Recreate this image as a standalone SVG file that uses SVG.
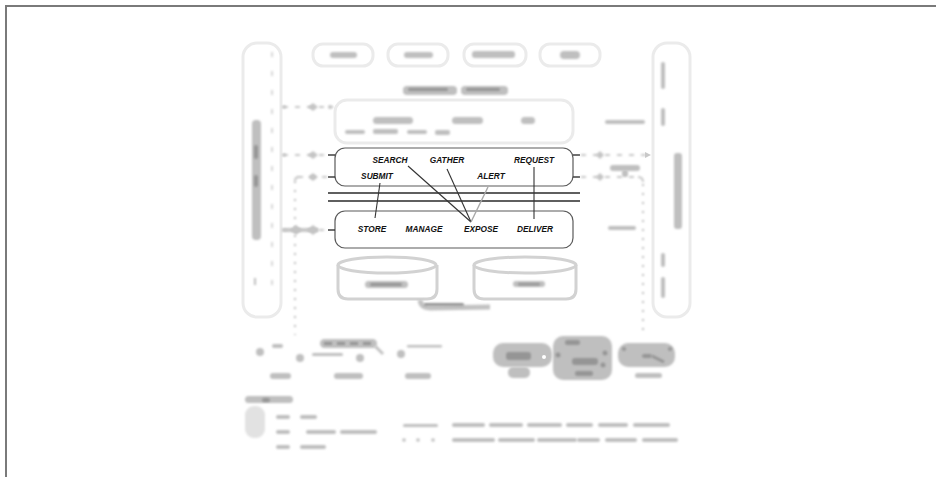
<svg xmlns="http://www.w3.org/2000/svg" width="936" height="477" viewBox="0 0 936 477">
<defs>
<filter id="blur" filterUnits="userSpaceOnUse" x="0" y="0" width="936" height="477"><feGaussianBlur stdDeviation="0.9"/></filter>
<style>
.frame{fill:none;stroke:#7a7a7a;stroke-width:2}
.pale{fill:none;stroke:#ebebeb;stroke-width:3}
.cyl{fill:none;stroke:#d2d2d2;stroke-width:3}
.box{fill:#fff;stroke:#5a5a5a;stroke-width:1.2}
.rule{stroke:#2a2a2a;stroke-width:1.4}
.tick{stroke:#333;stroke-width:1.4}
.lbl{font-family:"Liberation Sans",Arial,sans-serif;font-size:8.3px;font-weight:bold;font-style:italic;fill:#111;text-anchor:middle}
.link{stroke:#333;stroke-width:1.1;fill:none}
.sm{fill:#bfbfbf;filter:url(#blur)}
.smd{fill:#959595;filter:url(#blur)}
.smp{fill:#e2e2e2;filter:url(#blur)}
.dash{fill:none;stroke:#c8c8c8;stroke-width:2;stroke-dasharray:5 7;filter:url(#blur)}
.dots{fill:none;stroke:#c0c0c0;stroke-width:2;stroke-dasharray:2 7;filter:url(#blur)}
</style>
</defs>

<!-- page frame (top and left edges) -->
<path class="frame" d="M6,477 L6,6 L936,6"/>

<!-- left tall panel -->
<g id="left-panel">
<rect class="pale" x="243" y="43" width="38" height="274" rx="14"/>
<line x1="272" y1="52" x2="272" y2="292" stroke="#cfcfcf" stroke-width="1.6" stroke-dasharray="5 14" filter="url(#blur)"/>
<rect class="sm" x="252" y="120" width="9" height="120" rx="4"/>
<rect class="smd" x="254" y="145" width="4" height="14" rx="2"/>
<rect class="smd" x="254" y="175" width="4" height="12" rx="2"/>
<rect class="sm" x="254" y="278" width="2" height="7"/>
</g>

<!-- right tall panel -->
<g id="right-panel">
<rect class="pale" x="653" y="43" width="37" height="274" rx="14"/>
<rect class="sm" x="661" y="62" width="4" height="27" rx="2"/>
<rect class="sm" x="661" y="108" width="4" height="18" rx="2"/>
<rect class="sm" x="674" y="153" width="8" height="76" rx="3"/>
<rect class="sm" x="661" y="253" width="4" height="14" rx="2"/>
<rect class="sm" x="661" y="277" width="4" height="21" rx="2"/>
</g>

<!-- top four boxes -->
<g id="top-1"><rect class="pale" x="313" y="44" width="60" height="22" rx="10"/><rect class="sm" x="330" y="52" width="27" height="6" rx="3"/></g>
<g id="top-2"><rect class="pale" x="388" y="44" width="60" height="22" rx="10"/><rect class="sm" x="404" y="52" width="29" height="6" rx="3"/></g>
<g id="top-3"><rect class="pale" x="464" y="44" width="62" height="22" rx="10"/><rect class="sm" x="472" y="51" width="43" height="7" rx="3"/></g>
<g id="top-4"><rect class="pale" x="540" y="44" width="60" height="22" rx="10"/><rect class="sm" x="560" y="51" width="20" height="8" rx="4"/></g>

<!-- title smudge -->
<g id="title">
<rect class="sm" x="403" y="86" width="54" height="9" rx="4"/>
<rect class="sm" x="461" y="86" width="47" height="9" rx="4"/>
<rect class="smd" x="408" y="88" width="40" height="3" rx="1.5"/>
<rect class="smd" x="466" y="88" width="34" height="3" rx="1.5"/>
</g>

<!-- upper pale box -->
<g id="upper-box">
<rect class="pale" x="335" y="100" width="238" height="43" rx="12"/>
<rect class="sm" x="373" y="117" width="40" height="7" rx="3.5"/>
<rect class="sm" x="452" y="117" width="31" height="7" rx="3.5"/>
<rect class="sm" x="521" y="117" width="14" height="7" rx="3.5"/>
<rect class="sm" x="345" y="130" width="20" height="4" rx="2"/>
<rect class="sm" x="373" y="129" width="25" height="5" rx="2"/>
<rect class="sm" x="407" y="130" width="20" height="4" rx="2"/>
<rect class="sm" x="435" y="130" width="15" height="5" rx="2"/>
</g>

<!-- upper layer box -->
<g id="layer-access">
<rect class="box" x="335" y="148" width="238" height="38" rx="10"/>
<line class="tick" x1="328" y1="155" x2="335" y2="155"/>
<line class="tick" x1="328" y1="177" x2="335" y2="177"/>
<line class="tick" x1="573" y1="155" x2="580" y2="155"/>
<line class="tick" x1="573" y1="177" x2="580" y2="177"/>
<text class="lbl" x="390" y="163">SEARCH</text>
<text class="lbl" x="447" y="163">GATHER</text>
<text class="lbl" x="534" y="163">REQUEST</text>
<text class="lbl" x="377" y="179">SUBMIT</text>
<text class="lbl" x="491" y="179">ALERT</text>
</g>

<!-- horizontal rules -->
<g id="rules">
<line class="rule" x1="328" y1="193" x2="580" y2="193"/>
<line class="rule" x1="328" y1="201" x2="580" y2="201"/>
</g>

<!-- lower layer box -->
<g id="layer-core">
<rect class="box" x="335" y="211" width="238" height="37" rx="10"/>
<line class="tick" x1="328" y1="230" x2="335" y2="230"/>
<text class="lbl" x="372" y="232">STORE</text>
<text class="lbl" x="424" y="232">MANAGE</text>
<text class="lbl" x="481" y="232">EXPOSE</text>
<text class="lbl" x="535" y="232">DELIVER</text>
</g>

<!-- cylinders -->
<g id="store-left">
<ellipse class="cyl" cx="387" cy="265" rx="49" ry="8"/>
<path class="cyl" d="M338,265 L338,289 Q338,299 348,299 L427,299 Q437,299 437,289 L437,265"/>
<rect class="sm" x="365" y="281" width="43" height="7" rx="3.5"/>
<rect class="smd" x="370" y="283" width="32" height="3" rx="1.5"/>
</g>
<g id="store-right">
<ellipse class="cyl" cx="525" cy="265" rx="51" ry="8"/>
<path class="cyl" d="M474,265 L474,289 Q474,299 484,299 L566,299 Q576,299 576,289 L576,265"/>
<rect class="sm" x="513" y="281" width="32" height="6" rx="3"/>
<rect class="smd" x="518" y="283" width="22" height="2.5" rx="1.2"/>
</g>
<g id="store-caption">
<path d="M420,300 Q421,308 430,308 L490,307" fill="none" stroke="#c2c2c2" stroke-width="5" filter="url(#blur)"/>
<rect class="smd" x="424" y="303" width="40" height="3" rx="1.5"/>
</g>

<!-- connectors -->
<g id="connectors">
<line class="link" x1="380" y1="183" x2="375" y2="218"/>
<line class="link" x1="408" y1="166" x2="471" y2="222"/>
<line class="link" x1="447" y1="169" x2="471" y2="222"/>
<line x1="488" y1="187" x2="471" y2="222" stroke="#a8a8a8" stroke-width="1.4"/>
<line class="link" x1="534" y1="167" x2="534" y2="219"/>

<path class="dash" d="M283,107 L333,107"/>
<path class="dash" d="M283,155 L327,155"/>
<path class="dash" d="M298,177 L327,177"/>
<path class="dash" d="M283,230 L327,230"/>
<path d="M282,230 L318,230" stroke="#c8c8c8" stroke-width="4" filter="url(#blur)"/>
<path class="dots" d="M295,181 L295,335"/>
<path d="M295,181 Q295,177 299,177" fill="none" stroke="#c8c8c8" stroke-width="2" filter="url(#blur)"/>
<g fill="#c4c4c4" filter="url(#blur)">
<path d="M313,103 L318,107 L313,111 L308,107 Z"/>
<path d="M313,151 L318,155 L313,159 L308,155 Z"/>
<path d="M313,173 L318,177 L313,181 L308,177 Z"/>
<path d="M313,225 L319,230 L313,235 L307,230 Z"/>
<path d="M296,225 L302,230 L296,235 L290,230 Z"/>
<circle cx="284" cy="107" r="1.8"/><circle cx="284" cy="155" r="1.8"/><circle cx="330" cy="107" r="2"/>
</g>

<path class="dash" d="M581,155 L646,155"/>
<path d="M645,152 L651,155 L645,158 Z" fill="#c8c8c8"/>
<path class="dash" d="M581,177 L638,177"/>
<path d="M638,177 Q643,177 643,182" fill="none" stroke="#c8c8c8" stroke-width="2" filter="url(#blur)"/>
<path class="dots" d="M643,184 L643,333"/>
<g fill="#c4c4c4" filter="url(#blur)">
<path d="M600,151 L604,155 L600,159 L596,155 Z"/>
<path d="M600,173 L604,177 L600,181 L596,177 Z"/>
</g>
<rect class="sm" x="610" y="165" width="30" height="6" rx="3"/>
<rect class="sm" x="622" y="170" width="6" height="7" rx="2"/>
<rect class="sm" x="605" y="120" width="40" height="4" rx="2"/>
<rect class="sm" x="608" y="226" width="28" height="4" rx="2"/>
</g>

<!-- lower left area -->
<g id="bottom-left">
<circle class="sm" cx="260" cy="352" r="4"/>
<rect class="sm" x="272" y="344" width="11" height="4" rx="2"/>
<rect class="sm" x="320" y="339" width="57" height="9" rx="4.5"/>
<rect class="smd" x="324" y="342" width="8" height="3"/><rect class="smd" x="337" y="342" width="8" height="3"/><rect class="smd" x="350" y="342" width="8" height="3"/><rect class="smd" x="363" y="342" width="8" height="3"/>
<path d="M375,346 L383,354" stroke="#c2c2c2" stroke-width="3" filter="url(#blur)"/>
<circle class="sm" cx="300" cy="358" r="4"/>
<rect class="sm" x="312" y="353" width="31" height="3" rx="1.5"/>
<circle class="sm" cx="360" cy="358" r="4"/>
<circle class="sm" cx="401" cy="354" r="4"/>
<rect class="sm" x="407" y="345" width="35" height="2.5" rx="1.2"/>
<rect class="sm" x="270" y="373" width="21" height="6" rx="3"/>
<rect class="sm" x="334" y="373" width="29" height="6" rx="3"/>
<rect class="sm" x="405" y="373" width="26" height="6" rx="3"/>
</g>

<!-- lower right pictograms -->
<g id="bottom-right">
<rect class="sm" x="493" y="343" width="59" height="24" rx="10"/>
<rect class="sm" x="508" y="367" width="22" height="11" rx="5"/>
<rect class="smd" x="506" y="352" width="25" height="8" rx="3"/>
<circle cx="544" cy="357" r="2" fill="#fff"/>
<rect class="sm" x="553" y="336" width="59" height="44" rx="10"/>
<rect class="smd" x="565" y="340" width="15" height="5" rx="2"/>
<rect class="smd" x="572" y="358" width="26" height="7" rx="3"/>
<rect class="smd" x="575" y="371" width="18" height="5" rx="2"/>
<circle class="smd" cx="558" cy="355" r="2.5"/><circle class="smd" cx="605" cy="353" r="2.5"/><circle class="smd" cx="603" cy="365" r="2.5"/>
<rect class="sm" x="618" y="343" width="57" height="24" rx="10"/>
<rect class="sm" x="635" y="373" width="27" height="5" rx="2.5"/>
<circle class="smd" cx="624" cy="349" r="2"/><circle class="smd" cx="670" cy="349" r="2"/>
<rect class="smd" x="642" y="354" width="10" height="4" rx="2"/>
<path d="M652,356 L664,362" stroke="#959595" stroke-width="3" filter="url(#blur)"/>
</g>

<!-- legend -->
<g id="legend">
<rect class="sm" x="245" y="396" width="48" height="7" rx="3.5"/>
<rect class="smd" x="262" y="398" width="8" height="4" rx="2"/>
<rect class="smp" x="245" y="406" width="20" height="32" rx="9"/>
<rect class="sm" x="276" y="415" width="14" height="4" rx="2"/>
<rect class="sm" x="300" y="415" width="17" height="4" rx="2"/>
<rect class="sm" x="276" y="430" width="14" height="4" rx="2"/>
<rect class="sm" x="306" y="430" width="30" height="4" rx="2"/>
<rect class="sm" x="340" y="430" width="37" height="4" rx="2"/>
<rect class="sm" x="276" y="445" width="14" height="4" rx="2"/>
<rect class="sm" x="300" y="445" width="26" height="4" rx="2"/>
<rect class="sm" x="403" y="424" width="35" height="3" rx="1.5"/>
<rect class="sm" x="452" y="423" width="33" height="4" rx="2"/>
<rect class="sm" x="489" y="423" width="34" height="4" rx="2"/>
<rect class="sm" x="527" y="423" width="35" height="4" rx="2"/>
<rect class="sm" x="566" y="423" width="27" height="4" rx="2"/>
<rect class="sm" x="598" y="423" width="30" height="4" rx="2"/>
<rect class="sm" x="633" y="423" width="37" height="4" rx="2"/>
<circle class="sm" cx="404" cy="440" r="1.8"/><circle class="sm" cx="418" cy="440" r="1.8"/><circle class="sm" cx="433" cy="440" r="1.8"/>
<rect class="sm" x="452" y="438" width="43" height="4" rx="2"/>
<rect class="sm" x="498" y="438" width="37" height="4" rx="2"/>
<rect class="sm" x="537" y="438" width="40" height="4" rx="2"/>
<rect class="sm" x="577" y="438" width="23" height="4" rx="2"/>
<rect class="sm" x="605" y="438" width="32" height="4" rx="2"/>
<rect class="sm" x="642" y="438" width="36" height="4" rx="2"/>
</g>
</svg>
